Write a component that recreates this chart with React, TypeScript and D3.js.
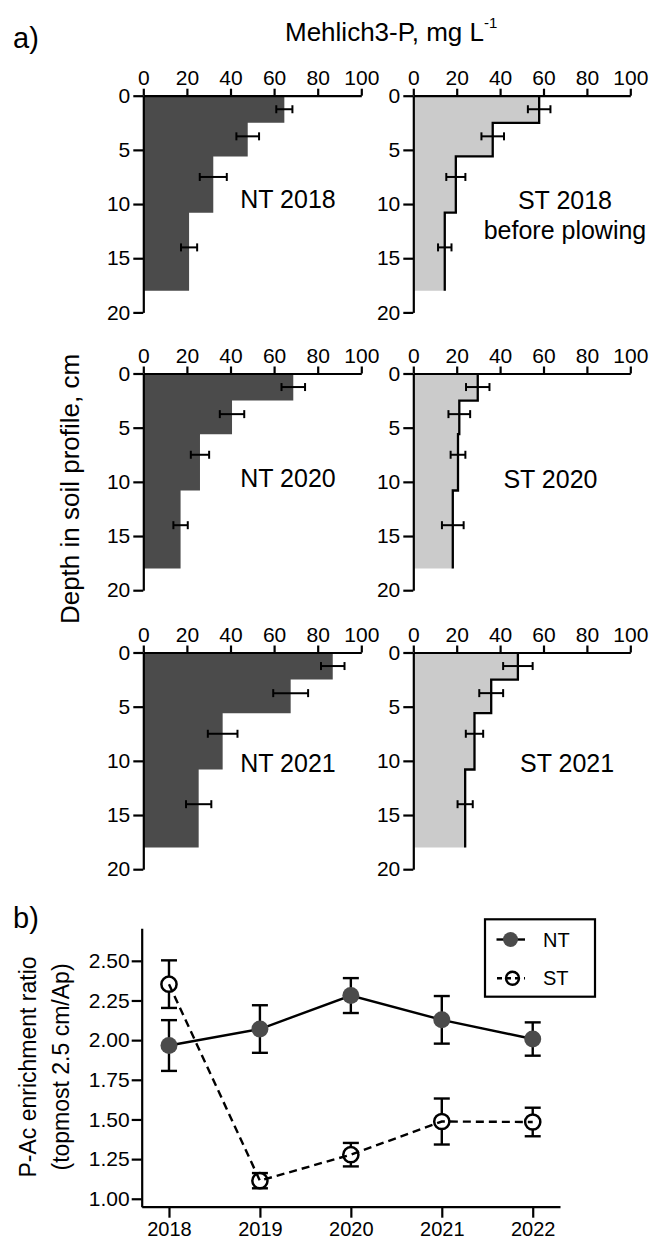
import React, { useEffect, useRef } from 'react';
import * as d3 from 'd3';

// ---------- Data: panel a (Mehlich3-P profiles) ----------
const depthEdges = [0, 2.5, 5.6, 10.8, 18];
const errDepths = [1.25, 3.75, 7.5, 14];
const depthTicks = [0, 5, 10, 15, 20];
const pTicks = [0, 20, 40, 60, 80, 100];

const nt2018 = [64.7, 47.9, 32.1, 21.0];
const nt2018Err = [3.7, 5.2, 6.2, 3.7];
const st2018 = [58.0, 36.6, 19.6, 14.5];
const st2018Err = [5.2, 5.2, 4.4, 3.1];
const nt2020 = [68.8, 40.7, 26.0, 17.1];
const nt2020Err = [5.4, 5.6, 4.2, 3.3];
const st2020 = [29.7, 21.2, 20.6, 18.2];
const st2020Err = [5.4, 5.0, 3.4, 5.0];
const nt2021 = [86.9, 67.6, 36.4, 25.4];
const nt2021Err = [5.4, 8.0, 6.8, 5.8];
const st2021 = [48.2, 35.9, 28.2, 23.9];
const st2021Err = [6.8, 5.5, 4.0, 3.5];

const panelNames = ['NT 2018', 'ST 2018', 'NT 2020', 'ST 2020', 'NT 2021', 'ST 2021'];

// ---------- Data: panel b (enrichment ratio) ----------
const years = [2018, 2019, 2020, 2021, 2022];
const ratioTicks = [1.0, 1.25, 1.5, 1.75, 2.0, 2.25, 2.5];
const ntRatio = [1.966, 2.07, 2.281, 2.128, 2.007];
const ntRatioErr = [0.16, 0.15, 0.11, 0.15, 0.105];
const stRatio = [2.353, 1.114, 1.278, 1.487, 1.484];
const stRatioErr = [0.15, 0.048, 0.074, 0.145, 0.09];

const FONT = '"Liberation Sans", Arial, Helvetica, sans-serif';
const DARK = '#4b4b4b';
const LIGHT = '#cbcbcb';

export default function App() {
  const ref = useRef<SVGSVGElement | null>(null);

  useEffect(() => {
    const svg = d3.select(ref.current);
    svg.selectAll('*').remove();
    svg.attr('font-family', FONT);

    const colX = [[143.3, 361.3], [413.3, 630.3]];
    const rowY = [95.7, 373.5, 652.5];
    const panelH = 216.7;

    const panels = [
      { name: panelNames[0], sub: '', v: nt2018, e: nt2018Err, col: 0, row: 0, lab: [44.5, 10.4], anchor: 'start' },
      { name: panelNames[1], sub: 'before plowing', v: st2018, e: st2018Err, col: 1, row: 0, lab: [69.9, 10.5], anchor: 'middle' },
      { name: panelNames[2], sub: '', v: nt2020, e: nt2020Err, col: 0, row: 1, lab: [44.5, 10.45], anchor: 'start' },
      { name: panelNames[3], sub: '', v: st2020, e: st2020Err, col: 1, row: 1, lab: [63.2, 10.6], anchor: 'middle' },
      { name: panelNames[4], sub: '', v: nt2021, e: nt2021Err, col: 0, row: 2, lab: [44.5, 11.0], anchor: 'start' },
      { name: panelNames[5], sub: '', v: st2021, e: st2021Err, col: 1, row: 2, lab: [70.9, 11.0], anchor: 'middle' },
    ];

    panels.forEach((p) => {
      const x = d3.scaleLinear().domain([0, 100]).range(colX[p.col]);
      const y = d3.scaleLinear().domain([0, 20]).range([rowY[p.row], rowY[p.row] + panelH]);
      const g = svg.append('g');
      const isNT = p.col === 0;

      // step profile points
      const pts: [number, number][] = [];
      p.v.forEach((val, i) => {
        pts.push([val, depthEdges[i]]);
        pts.push([val, depthEdges[i + 1]]);
      });
      const area: [number, number][] = [[0, 0], ...pts, [0, depthEdges[depthEdges.length - 1]]];
      const line = d3.line<[number, number]>().x((d) => x(d[0])).y((d) => y(d[1]));
      g.append('path')
        .attr('d', line(area) + 'Z')
        .attr('fill', isNT ? DARK : LIGHT)
        .attr('stroke', 'none');
      if (!isNT) {
        g.append('path')
          .attr('d', line(pts))
          .attr('fill', 'none')
          .attr('stroke', '#000')
          .attr('stroke-width', 2.3);
      }

      // error bars
      p.v.forEach((val, i) => {
        const yy = y(errDepths[i]);
        const x1 = x(val - p.e[i]);
        const x2 = x(val + p.e[i]);
        g.append('line').attr('x1', x1).attr('x2', x2).attr('y1', yy).attr('y2', yy)
          .attr('stroke', '#000').attr('stroke-width', 2);
        [x1, x2].forEach((xx) => {
          g.append('line').attr('x1', xx).attr('x2', xx).attr('y1', yy - 4).attr('y2', yy + 4)
            .attr('stroke', '#000').attr('stroke-width', 2);
        });
      });

      // axes
      const ax = g.append('g').attr('transform', `translate(0,${y(0)})`)
        .call(d3.axisTop(x).tickValues(pTicks).tickSize(7).tickSizeOuter(0).tickPadding(4));
      const ay = g.append('g').attr('transform', `translate(${x(0)},0)`)
        .call(d3.axisLeft(y).tickValues(depthTicks).tickSize(10).tickSizeOuter(0).tickPadding(3));
      [ax, ay].forEach((a) => {
        a.select('.domain').attr('stroke-width', 2.2).attr('stroke', '#000');
        a.selectAll('.tick line').attr('stroke-width', 2.2).attr('stroke', '#000');
        a.selectAll('.tick text').attr('font-size', 21).attr('font-family', FONT).attr('fill', '#000');
      });

      // panel label
      g.append('text').attr('x', x(p.lab[0])).attr('y', y(p.lab[1]))
        .attr('text-anchor', p.anchor).attr('font-size', 25).text(p.name);
      if (p.sub) {
        g.append('text').attr('x', x(p.lab[0])).attr('y', y(p.lab[1] + 2.7))
          .attr('text-anchor', 'middle').attr('font-size', 25).text(p.sub);
      }
    });

    // title
    const title = svg.append('text').attr('x', 285).attr('y', 41).attr('font-size', 26);
    title.append('tspan').text('Mehlich3-P, mg L');
    title.append('tspan').attr('font-size', 15).attr('dy', -13).text('-1');

    svg.append('text').attr('x', 13).attr('y', 48).attr('font-size', 29).text('a)');
    svg.append('text')
      .attr('transform', 'translate(79,489) rotate(-90)')
      .attr('text-anchor', 'middle').attr('font-size', 26)
      .text('Depth in soil profile, cm');

    // ---------- panel b ----------
    const xb = d3.scaleLinear().domain([2017.7, 2022.3]).range([141.7, 560]);
    const yb = d3.scaleLinear().domain([0.95, 2.705]).range([1206.7, 928.3]);
    const gb = svg.append('g');

    svg.append('text').attr('x', 13).attr('y', 928).attr('font-size', 29).text('b)');

    const axb = gb.append('g').attr('transform', `translate(0,${yb(0.95)})`)
      .call(d3.axisBottom(xb).tickValues(years).tickFormat(d3.format('d')).tickSize(11).tickSizeOuter(0).tickPadding(4));
    const ayb = gb.append('g').attr('transform', `translate(${xb(2017.7)},0)`)
      .call(d3.axisLeft(yb).tickValues(ratioTicks).tickFormat(d3.format('.2f')).tickSize(10).tickSizeOuter(0).tickPadding(2));
    [axb, ayb].forEach((a) => {
      a.select('.domain').attr('stroke-width', 2.2).attr('stroke', '#000');
      a.selectAll('.tick line').attr('stroke-width', 2.2).attr('stroke', '#000');
      a.selectAll('.tick text').attr('font-size', 21).attr('font-family', FONT).attr('fill', '#000');
    });
    axb.selectAll('.tick text').attr('font-size', 20);

    gb.append('text').attr('transform', 'translate(36,1067) rotate(-90)')
      .attr('text-anchor', 'middle').attr('font-size', 23).text('P-Ac enrichment ratio');
    gb.append('text').attr('transform', 'translate(69,1067) rotate(-90)')
      .attr('text-anchor', 'middle').attr('font-size', 23).text('(topmost 2.5 cm/Ap)');

    const drawErr = (vals: number[], errs: number[]) => {
      vals.forEach((v, i) => {
        const xx = xb(years[i]);
        const y1 = yb(v + errs[i]);
        const y2 = yb(v - errs[i]);
        gb.append('line').attr('x1', xx).attr('x2', xx).attr('y1', y1).attr('y2', y2)
          .attr('stroke', '#000').attr('stroke-width', 2.4);
        [y1, y2].forEach((yy) => {
          gb.append('line').attr('x1', xx - 8).attr('x2', xx + 8).attr('y1', yy).attr('y2', yy)
            .attr('stroke', '#000').attr('stroke-width', 2.4);
        });
      });
    };
    const lb = d3.line<number>().x((_, i) => xb(years[i])).y((d) => yb(d));

    // NT
    drawErr(ntRatio, ntRatioErr);
    gb.append('path').attr('d', lb(ntRatio)).attr('fill', 'none').attr('stroke', '#000').attr('stroke-width', 2.4);
    ntRatio.forEach((v, i) => {
      gb.append('circle').attr('cx', xb(years[i])).attr('cy', yb(v)).attr('r', 8.5).attr('fill', DARK);
    });
    // ST
    drawErr(stRatio, stRatioErr);
    stRatio.forEach((v, i) => {
      gb.append('circle').attr('cx', xb(years[i])).attr('cy', yb(v)).attr('r', 7.6)
        .attr('fill', '#fff').attr('stroke', '#000').attr('stroke-width', 2.5);
    });
    gb.append('path').attr('d', lb(stRatio)).attr('fill', 'none').attr('stroke', '#000')
      .attr('stroke-width', 2.4).attr('stroke-dasharray', '8,5');

    // legend
    const lg = gb.append('g');
    lg.append('rect').attr('x', 485).attr('y', 919.3).attr('width', 110).attr('height', 77.4)
      .attr('fill', '#fff').attr('stroke', '#000').attr('stroke-width', 2.2);
    lg.append('line').attr('x1', 496.5).attr('x2', 525).attr('y1', 939.5).attr('y2', 939.5)
      .attr('stroke', '#000').attr('stroke-width', 2.4);
    lg.append('circle').attr('cx', 510.5).attr('cy', 939.5).attr('r', 7.5).attr('fill', DARK);
    lg.append('text').attr('x', 543).attr('y', 947.3).attr('font-size', 20).text('NT');
    lg.append('circle').attr('cx', 512.5).attr('cy', 978.3).attr('r', 6.5)
      .attr('fill', '#fff').attr('stroke', '#000').attr('stroke-width', 2.4);
    lg.append('line').attr('x1', 497).attr('x2', 525).attr('y1', 978.3).attr('y2', 978.3)
      .attr('stroke', '#000').attr('stroke-width', 2.4).attr('stroke-dasharray', '5,4');
    lg.append('text').attr('x', 543).attr('y', 984.5).attr('font-size', 20).text('ST');
  }, []);

  return (
    <svg
      ref={ref}
      width={651}
      height={1243}
      viewBox="0 0 651 1243"
      style={{ position: 'absolute', left: 0, top: 0, background: '#fff' }}
    />
  );
}
